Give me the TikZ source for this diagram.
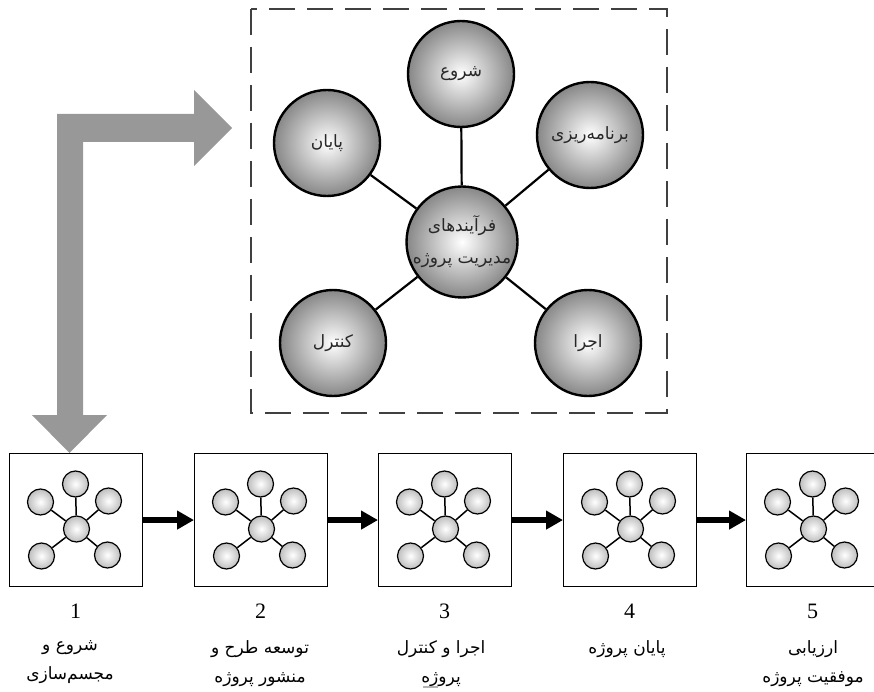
\documentclass[tikz,border=0pt]{standalone}
\usepackage{fontspec}
\setmainfont{Liberation Serif}
\newfontfamily\fa[Script=Arabic]{DejaVu Sans}
\TeXXeTstate=1
\usetikzlibrary{arrows.meta}
\definecolor{arrowgray}{RGB}{152,152,152}
\definecolor{bigedge}{RGB}{135,135,135}
\definecolor{smalledge}{RGB}{190,190,190}
\definecolor{txtdark}{RGB}{40,40,40}
\newcommand\rtl[1]{\beginR #1\endR}
\newcommand\staricon[3]{%
  \node[smallc] (#1c) at (#2,#3) {};
  \node[smallc] (#1t) at (#2-1,#3-45) {};
  \node[smallc] (#1ul) at (#2-36,#3-27) {};
  \node[smallc] (#1ur) at (#2+32,#3-28) {};
  \node[smallc] (#1ll) at (#2-35,#3+27) {};
  \node[smallc] (#1lr) at (#2+31,#3+26) {};
  \draw[smallline] (#1c) -- (#1t);
  \draw[smallline] (#1c) -- (#1ul);
  \draw[smallline] (#1c) -- (#1ur);
  \draw[smallline] (#1c) -- (#1ll);
  \draw[smallline] (#1c) -- (#1lr);
}
\begin{document}
\begin{tikzpicture}[x=1pt,y=-1pt,
  bigc/.style={circle,draw=black,line width=2.4pt,minimum size=106pt,inner sep=0pt,
    inner color=white,outer color=bigedge,font=\fa\fontsize{17}{20}\selectfont,text=txtdark,align=center},
  bigline/.style={line width=2.2pt,draw=black},
  smallc/.style={circle,draw=black,line width=1.2pt,minimum size=26pt,inner sep=0pt,
    inner color=white,outer color=smalledge},
  smallline/.style={line width=1.5pt,draw=black},
  stagebox/.style={draw=black,line width=1.1pt,fill=white,minimum width=133pt,minimum height=133pt,inner sep=0pt,anchor=north west},
  flowarrow/.style={line width=6pt,-{Triangle[length=17pt,width=18pt]}},
  numlabel/.style={font=\fontsize{22}{24}\selectfont},
  steplabel/.style={font=\fa\fontsize{17}{29}\selectfont,align=center,anchor=north}
]
\useasboundingbox (0,0) rectangle (874,692);
\clip (0,0) rectangle (874,692);

% dashed frame
\draw[black!75,line width=1.8pt,dash pattern=on 26pt off 12pt] (251,9) rectangle (667,413);

% big gray bent arrow
\fill[arrowgray] (57,415) -- (57,114) -- (194,114) -- (194,90) -- (232,128) -- (194,166) -- (194,142)
  -- (83,142) -- (83,415) -- (107,415) -- (69.5,453) -- (32,415) -- cycle;

% big circles
\node[bigc] (center) at (462,242) {\rtl{فرآیندهای}\\[12pt]\rtl{مدیریت پروژه}};
\node[bigc] (start) at (461,74) {\rtl{شروع}};
\node[bigc] (finish) at (327,143) {\rtl{پایان}};
\node[bigc] (plan) at (590,135) {\rtl{برنامه‌ریزی}};
\node[bigc] (control) at (333,343) {\rtl{کنترل}};
\node[bigc] (exec) at (588,343) {\rtl{اجرا}};
\draw[bigline] (center) -- (start);
\draw[bigline] (center) -- (finish);
\draw[bigline] (center) -- (plan);
\draw[bigline] (center) -- (control);
\draw[bigline] (center) -- (exec);

% stage boxes
\node[stagebox] (b1) at (9,453) {};
\node[stagebox] (b2) at (194,453) {};
\node[stagebox] (b3) at (378,453) {};
\node[stagebox] (b4) at (563,453) {};
\node[stagebox] (b5) at (746,453) {};
\staricon{ia}{76.5}{529}
\staricon{ib}{261.5}{529}
\staricon{ic}{445.5}{529}
\staricon{id}{630.5}{529}
\staricon{ie}{813.5}{529}

% flow arrows
\draw[flowarrow] (b1.east) -- (b2.west);
\draw[flowarrow] (b2.east) -- (b3.west);
\draw[flowarrow] (b3.east) -- (b4.west);
\draw[flowarrow] (b4.east) -- (b5.west);

% numbers
\node[numlabel] (n1) at (75.5,611) {1};
\node[numlabel] (n2) at (260.5,611) {2};
\node[numlabel] (n3) at (444.5,611) {3};
\node[numlabel] (n4) at (629.5,611) {4};
\node[numlabel] (n5) at (812.5,611) {5};

% stage labels
\node[steplabel] (l1) at (70,637) {\rtl{شروع و}\\\rtl{مجسم‌سازی}};
\node[steplabel] (l2) at (260,637) {\rtl{توسعه طرح و}\\\rtl{منشور پروژه}};
\node[steplabel] (l3) at (441,637) {\rtl{اجرا و کنترل}\\\rtl{پروژه}};
\node[steplabel] (l4) at (627,637) {\rtl{پایان پروژه}};
\node[steplabel] (l5) at (813,637) {\rtl{ارزیابی}\\\rtl{موفقیت پروژه}};
\draw[black!30,line width=1.2pt] (423,687) -- (438,687);
\end{tikzpicture}
\end{document}
